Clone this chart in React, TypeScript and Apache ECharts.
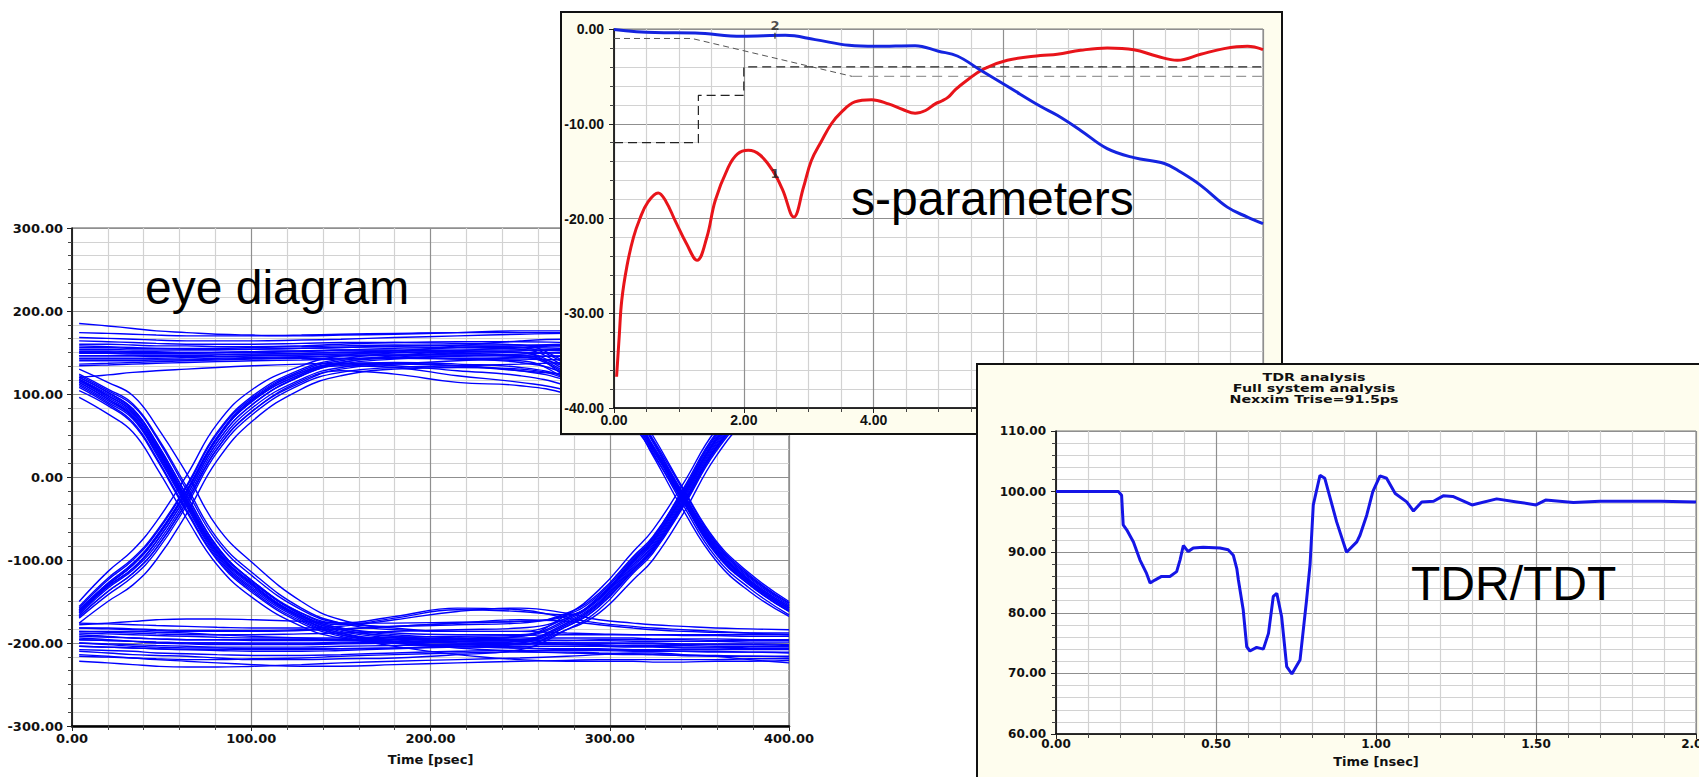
import React, { useEffect, useRef } from "react";
import * as echarts from "echarts";

// ---------------- Eye diagram data ----------------
const eyeTimes = [4, 20, 34, 47, 64, 81, 101, 128, 150, 180, 215, 250, 276, 294, 313, 324, 341, 359, 378, 400];
const eyeTraces: number[][] = [
  [185, 182, 179, 176, 174, 172, 171, 170, 171, 172, 174, 176, 176, 175, 175, 174, 174, 173, 172, 172],
  [174, 173, 172, 171, 170, 170, 170, 171, 172, 173, 174, 174, 174, 174, 173, 173, 172, 172, 171, 171],
  [168, 167, 166, 165, 164, 164, 164, 165, 166, 168, 170, 172, 173, 173, 172, 172, 171, 170, 170, 169],
  [160, 160, 159, 158, 158, 157, 157, 158, 160, 162, 163, 163, 162, 161, 160, 160, 159, 158, 158, 157],
  [156, 156, 155, 155, 154, 154, 154, 155, 156, 158, 159, 159, 158, 157, 156, 156, 155, 155, 154, 154],
  [152, 152, 151, 151, 150, 150, 150, 151, 153, 155, 156, 156, 155, 154, 153, 152, 152, 151, 150, 150],
  [149, 149, 148, 148, 148, 148, 148, 149, 150, 152, 153, 153, 152, 151, 150, 150, 149, 149, 148, 148],
  [146, 146, 146, 145, 145, 145, 146, 147, 148, 150, 151, 150, 149, 148, 147, 147, 146, 146, 145, 145],
  [140, 140, 140, 141, 141, 142, 143, 144, 146, 147, 147, 146, 145, 144, 143, 142, 141, 140, 139, 139],
  [134, 135, 136, 137, 138, 139, 140, 141, 142, 143, 143, 142, 141, 140, 139, 138, 137, 136, 135, 134],
  [120, 123, 126, 128, 130, 132, 134, 136, 137, 137, 134, 128, 124, 121, 119, 117, 115, 114, 113, 112],
  [158, 157, 156, 155, 155, 155, 156, 157, 158, 159, 158, 156, 136, 108, 80, 44, -20, -80, -120, -152],
  [154, 154, 153, 153, 153, 153, 154, 155, 156, 157, 156, 154, 132, 104, 78, 42, -22, -84, -124, -156],
  [150, 150, 149, 149, 149, 150, 151, 152, 153, 153, 152, 150, 128, 100, 74, 38, -26, -86, -126, -158],
  [146, 146, 146, 146, 146, 147, 148, 149, 150, 150, 149, 147, 126, 98, 72, 36, -28, -90, -128, -160],
  [143, 143, 143, 143, 144, 145, 146, 147, 148, 148, 147, 145, 124, 96, 70, 34, -30, -92, -130, -162],
  [164, 163, 162, 161, 160, 160, 160, 161, 162, 162, 161, 159, 138, 112, 86, 50, -14, -76, -116, -150],
  [136, 137, 138, 139, 140, 141, 142, 143, 143, 143, 142, 140, 118, 92, 66, 30, -34, -96, -134, -166],
  [151, 151, 150, 150, 150, 150, 151, 152, 152, 152, 151, 150, 120, 92, 64, 26, -40, -100, -138, -168],
  [142, 142, 142, 142, 142, 143, 144, 145, 146, 146, 145, 144, 132, 106, 80, 46, -16, -78, -118, -152],
  [120, 102, 82, 42, -22, -84, -126, -166, -182, -190, -194, -196, -197, -197, -198, -198, -198, -198, -199, -199],
  [116, 98, 78, 36, -28, -90, -130, -168, -184, -192, -196, -198, -200, -200, -201, -201, -202, -202, -202, -203],
  [114, 94, 72, 30, -34, -94, -134, -170, -186, -194, -198, -200, -202, -203, -204, -204, -205, -205, -206, -206],
  [124, 106, 88, 50, -12, -74, -116, -158, -176, -184, -186, -186, -188, -189, -190, -190, -191, -191, -192, -192],
  [110, 90, 70, 28, -36, -96, -136, -172, -190, -200, -206, -210, -212, -213, -214, -214, -215, -215, -216, -216],
  [108, 88, 66, 24, -40, -98, -138, -174, -190, -198, -204, -206, -208, -208, -209, -209, -210, -210, -211, -211],
  [96, 76, 54, 12, -50, -106, -146, -180, -194, -200, -204, -206, -207, -207, -208, -208, -208, -208, -208, -208],
  [118, 100, 80, 40, -26, -88, -128, -164, -176, -168, -158, -160, -170, -176, -180, -182, -184, -186, -188, -190],
  [104, 86, 64, 22, -42, -100, -140, -176, -192, -204, -214, -220, -222, -222, -222, -223, -223, -222, -222, -221],
  [120, 102, 82, 42, -22, -84, -126, -166, -182, -188, -190, -190, -172, -148, -104, -80, -24, 42, 86, 118],
  [116, 96, 76, 36, -30, -90, -130, -168, -184, -192, -196, -196, -176, -152, -110, -86, -30, 36, 80, 112],
  [114, 94, 74, 34, -30, -90, -130, -170, -188, -196, -200, -198, -178, -154, -112, -88, -32, 34, 80, 112],
  [122, 104, 86, 48, -16, -78, -120, -160, -176, -180, -178, -176, -164, -140, -96, -72, -16, 50, 92, 122],
  [112, 92, 72, 32, -32, -92, -132, -170, -188, -198, -202, -202, -180, -156, -114, -90, -34, 32, 78, 110],
  [118, 98, 78, 38, -26, -86, -126, -164, -178, -170, -160, -162, -166, -144, -100, -76, -20, 46, 90, 120],
  [130, 114, 98, 62, 4, -60, -104, -150, -172, -182, -186, -186, -170, -146, -100, -74, -14, 52, 94, 124],
  [-164, -132, -110, -78, -22, 42, 88, 122, 136, 142, 146, 148, 150, 150, 150, 150, 150, 150, 150, 150],
  [-162, -130, -106, -74, -18, 46, 92, 124, 138, 144, 150, 152, 154, 154, 154, 154, 154, 154, 154, 154],
  [-160, -128, -104, -72, -16, 48, 94, 126, 138, 146, 152, 156, 158, 158, 158, 158, 158, 158, 158, 158],
  [-168, -138, -116, -86, -30, 34, 80, 116, 130, 136, 140, 144, 146, 146, 146, 146, 146, 146, 146, 146],
  [-156, -122, -98, -66, -10, 54, 98, 130, 142, 150, 158, 164, 166, 166, 166, 166, 166, 166, 166, 166],
  [-170, -142, -120, -90, -34, 30, 76, 112, 126, 132, 134, 136, 138, 140, 140, 140, 140, 140, 140, 140],
  [-150, -114, -88, -54, 2, 64, 106, 134, 146, 152, 156, 158, 160, 160, 160, 160, 160, 160, 160, 160],
  [-164, -132, -110, -78, -22, 42, 88, 122, 134, 132, 122, 114, 104, 86, 64, 32, -26, -86, -126, -158],
  [-162, -130, -106, -74, -18, 46, 92, 124, 136, 138, 136, 132, 120, 98, 72, 36, -22, -82, -122, -154],
  [-160, -128, -104, -72, -16, 48, 94, 126, 136, 134, 128, 122, 110, 92, 68, 34, -24, -84, -124, -156],
  [-168, -138, -116, -86, -30, 34, 80, 114, 128, 124, 114, 110, 100, 82, 60, 28, -30, -90, -130, -162],
  [-158, -124, -100, -68, -12, 52, 96, 128, 140, 144, 142, 138, 124, 100, 74, 38, -20, -80, -120, -152],
  [-166, -134, -112, -82, -26, 38, 84, 118, 132, 136, 134, 128, 116, 96, 70, 36, -28, -88, -128, -160],
  [-176, -150, -130, -100, -44, 20, 68, 106, 122, 130, 132, 130, 118, 96, 70, 36, -26, -86, -126, -158],
  [-190, -192, -194, -195, -196, -196, -196, -196, -196, -195, -194, -192, -174, -150, -106, -82, -26, 40, 84, 116],
  [-194, -196, -198, -200, -201, -202, -202, -202, -201, -200, -198, -196, -176, -152, -108, -84, -28, 38, 82, 114],
  [-200, -202, -204, -205, -206, -206, -207, -207, -207, -206, -204, -200, -180, -156, -112, -88, -32, 34, 78, 110],
  [-186, -187, -188, -189, -190, -190, -190, -189, -188, -186, -184, -182, -170, -146, -102, -78, -22, 44, 88, 118],
  [-182, -182, -183, -184, -185, -185, -185, -184, -183, -180, -176, -174, -166, -142, -98, -74, -18, 48, 90, 120],
  [-210, -212, -214, -215, -216, -218, -220, -220, -219, -218, -214, -208, -184, -160, -116, -92, -36, 30, 76, 108],
  [-178, -176, -174, -172, -171, -171, -172, -174, -176, -176, -175, -174, -168, -146, -102, -78, -22, 44, 88, 118],
  [-196, -197, -198, -199, -200, -200, -200, -200, -199, -198, -196, -192, -166, -136, -90, -64, -8, 56, 96, 124],
  [-204, -205, -206, -207, -208, -208, -208, -208, -207, -206, -204, -202, -184, -164, -124, -100, -44, 24, 72, 104],
  [-188, -189, -190, -191, -192, -193, -194, -194, -194, -193, -192, -191, -190, -190, -190, -190, -190, -190, -190, -190],
  [-192, -193, -194, -195, -196, -196, -197, -197, -197, -196, -195, -194, -194, -194, -194, -195, -195, -195, -196, -196],
  [-196, -197, -198, -199, -200, -200, -201, -201, -200, -199, -198, -197, -197, -196, -196, -196, -196, -197, -197, -197],
  [-200, -201, -202, -203, -204, -205, -205, -205, -204, -203, -202, -201, -200, -200, -200, -200, -201, -201, -201, -202],
  [-204, -205, -206, -207, -208, -209, -210, -210, -209, -207, -205, -204, -204, -204, -205, -205, -206, -206, -207, -207],
  [-208, -209, -210, -212, -213, -214, -215, -215, -214, -212, -210, -209, -209, -209, -210, -210, -210, -211, -211, -212],
  [-214, -216, -218, -220, -222, -224, -226, -228, -228, -226, -224, -222, -221, -220, -220, -220, -220, -220, -219, -219],
  [-216, -217, -218, -219, -220, -220, -219, -218, -216, -214, -212, -211, -211, -212, -213, -214, -215, -216, -216, -217],
  [-176, -177, -178, -179, -180, -181, -182, -182, -180, -172, -162, -158, -164, -172, -176, -178, -180, -182, -183, -184],
  [-182, -183, -184, -185, -186, -186, -186, -185, -183, -180, -176, -172, -174, -178, -182, -184, -186, -187, -188, -188],
  [-222, -224, -226, -228, -229, -229, -228, -226, -224, -222, -220, -218, -216, -214, -212, -212, -214, -216, -220, -224],
  [-186, -186, -186, -187, -188, -190, -192, -194, -196, -198, -200, -201, -202, -202, -203, -203, -203, -204, -204, -204],
];

// ---------------- S-parameter data ----------------
const sReturnLoss: [number, number][] = [
  [0.04, -36.7], [0.08, -32.5], [0.12, -28.6], [0.2, -25], [0.3, -22], [0.4, -20], [0.52, -18.3], [0.68, -17.3],
  [0.8, -18.2], [0.94, -20.2], [1.12, -22.7], [1.28, -24.4], [1.43, -22.0], [1.56, -18.1], [1.76, -14.6],
  [1.9, -13.2], [2.07, -12.8], [2.25, -13.3], [2.45, -15.0], [2.6, -17.0], [2.77, -19.85], [2.92, -16.7],
  [3.04, -13.9], [3.2, -11.8], [3.35, -10.0], [3.5, -8.8], [3.71, -7.7], [3.97, -7.46], [4.23, -7.9],
  [4.45, -8.5], [4.64, -8.9], [4.8, -8.6], [4.95, -7.9], [5.05, -7.6], [5.15, -7.2], [5.26, -6.4],
  [5.44, -5.4], [5.7, -4.2], [6.06, -3.3], [6.57, -2.8], [6.83, -2.67], [7.19, -2.25], [7.6, -2.0],
  [8.01, -2.18], [8.37, -2.88], [8.68, -3.3], [9.04, -2.67], [9.4, -2.07], [9.76, -1.83], [10, -2.18],
];
const sInsertionLoss: [number, number][] = [
  [0, -0.05], [0.63, -0.38], [1.25, -0.42], [1.97, -0.77], [2.64, -0.67], [3.1, -1.12], [3.62, -1.72],
  [4.03, -1.83], [4.64, -1.76], [5.0, -2.35], [5.29, -2.85], [5.65, -4.36], [6.06, -6.05], [6.57, -8.16],
  [6.83, -9.11], [7.19, -10.7], [7.6, -12.63], [8.01, -13.58], [8.48, -14.2], [8.73, -15.1], [9.04, -16.5],
  [9.45, -18.8], [9.76, -19.85], [10, -20.55],
];
const sMaskReturn: [number, number][] = [[0, -12], [1.3, -12], [1.3, -7], [2, -7], [2, -4], [10, -4]];
const sMaskInsertA: [number, number][] = [[0, -1], [1.2, -1], [3.67, -5]];
const sMaskInsertB: [number, number][] = [[3.67, -5], [10, -5]];
const sMarkerLabels = ["1", "2"];
const sMarkerPoints: [number, number][] = [[2.48, -15.3], [2.48, -0.7]];

// ---------------- TDR data ----------------
const tdrImpedance: [number, number][] = [
  [0, 100], [0.195, 100], [0.205, 99.4], [0.21, 94.5], [0.221, 93.7], [0.242, 91.7], [0.2625, 88.7],
  [0.283, 86.5], [0.294, 84.9], [0.309, 85.4], [0.33, 86.0], [0.356, 86.0], [0.377, 86.8], [0.3875, 88.7],
  [0.398, 91.1], [0.413, 90.1], [0.429, 90.7], [0.46, 90.8], [0.5125, 90.7], [0.538, 90.4], [0.554, 89.5],
  [0.565, 87.3], [0.57, 85.4], [0.585, 80.5], [0.596, 74.4], [0.606, 73.7], [0.627, 74.3], [0.648, 74.0],
  [0.664, 76.6], [0.679, 82.7], [0.69, 83.2], [0.705, 79.4], [0.721, 71.1], [0.737, 69.9], [0.7625, 72.2],
  [0.783, 82.1], [0.794, 88.0], [0.804, 97.8], [0.825, 102.7], [0.84, 102.2], [0.877, 95.0], [0.908, 90.0],
  [0.94, 91.7], [0.95, 92.8], [0.971, 96.1], [0.99, 100], [1.0125, 102.6], [1.033, 102.2], [1.06, 99.7],
  [1.096, 98.3], [1.117, 96.8], [1.143, 98.3], [1.18, 98.4], [1.21, 99.3], [1.24, 99.2], [1.3, 97.8],
  [1.377, 98.8], [1.44, 98.3], [1.5, 97.8], [1.53, 98.6], [1.617, 98.2], [1.7, 98.4], [1.89, 98.4], [2.0, 98.3],
];
const tdrTitleLines = ["TDR analysis", "Full system analysis", "Nexxim Trise=91.5ps"];

const fmt2 = (v: number) => v.toFixed(2);
const CREAM = "#FEFDEE";

function axis(o: any) {
  return {
    type: "value",
    min: o.min,
    max: o.max,
    interval: o.interval,
    axisLine: { show: true, onZero: false, lineStyle: { color: "#000", width: o.lineWidth ?? 1.5 } },
    axisTick: { show: true, length: 5, lineStyle: { color: "#222" } },
    minorTick: { show: true, splitNumber: o.minor, length: 4, lineStyle: { color: "#444" } },
    splitLine: { show: true, lineStyle: { color: o.major ?? "#8f8f8f", width: 1.2 } },
    minorSplitLine: { show: true, lineStyle: { color: o.minorColor ?? "#d2d2d2", width: 1.2 } },
    axisLabel: {
      formatter: fmt2,
      fontFamily: o.font,
      fontWeight: "bold",
      fontSize: o.fontSize,
      color: "#111",
      margin: o.margin,
    },
    name: o.name,
    nameLocation: "middle",
    nameGap: o.nameGap,
    nameTextStyle: { fontFamily: o.font, fontWeight: "bold", fontSize: o.nameSize ?? o.fontSize, color: "#111" },
  };
}

const gridBase = { show: true, backgroundColor: "#fff", borderColor: "#666", borderWidth: 1, containLabel: false, outerBoundsMode: "none" };

const eyeOption = {
  animation: false,
  backgroundColor: "#ffffff",
  grid: { ...gridBase, left: 72, top: 228, width: 717, height: 498, borderColor: "#555" },
  xAxis: axis({ min: 0, max: 400, interval: 100, minor: 5, font: "DejaVu Sans", fontSize: 13, margin: 6, name: "Time [psec]", nameGap: 27, lineWidth: 2.5 }),
  yAxis: axis({ min: -300, max: 300, interval: 100, minor: 6, font: "DejaVu Sans", fontSize: 13, margin: 9 }),
  graphic: [
    { type: "text", x: 145, y: 287, z: 100, style: { text: "eye diagram", font: '48px "Liberation Sans", Arial, sans-serif', fill: "#000", verticalAlign: "middle" } },
  ],
  series: eyeTraces.map((tr, i) => ({
    type: "line",
    name: "trace" + i,
    data: tr.map((v, k) => [eyeTimes[k], v]),
    showSymbol: false,
    symbol: "none",
    smooth: 0.45,
    silent: true,
    lineStyle: { color: "#0000FF", width: 1.4 },
  })),
};

const sOption = {
  animation: false,
  backgroundColor: CREAM,
  grid: { ...gridBase, left: 54, top: 18, width: 649, height: 379, borderColor: "#777" },
  xAxis: axis({ min: 0, max: 10, interval: 2, minor: 4, font: "Liberation Sans", fontSize: 14, margin: 5, name: "F [GHz]", nameGap: 23 }),
  yAxis: axis({ min: -40, max: 0, interval: 10, minor: 5, font: "Liberation Sans", fontSize: 14, margin: 10 }),
  graphic: [
    { type: "rect", z: 100, shape: { x: 1, y: 1, width: 721, height: 422 }, style: { fill: "none", stroke: "#111", lineWidth: 2 } },
    { type: "text", x: 291, y: 187, z: 100, style: { text: "s-parameters", font: '48px "Liberation Sans", Arial, sans-serif', fill: "#000", verticalAlign: "middle" } },
  ],
  series: [
    { type: "line", name: "mask1", data: sMaskReturn, showSymbol: false, symbol: "none", lineStyle: { color: "#222", width: 1.2, type: [9, 5] } },
    { type: "line", name: "mask2a", data: sMaskInsertA, showSymbol: false, symbol: "none", lineStyle: { color: "#555", width: 1, type: [6, 4] } },
    { type: "line", name: "mask2b", data: sMaskInsertB, showSymbol: false, symbol: "none", lineStyle: { color: "#999", width: 1.2, type: [10, 6] } },
    { type: "line", name: "S11", data: sReturnLoss, showSymbol: false, symbol: "none", smooth: 0.4, lineStyle: { color: "#E8141A", width: 3 } },
    { type: "line", name: "S21", data: sInsertionLoss, showSymbol: false, symbol: "none", smooth: 0.4, lineStyle: { color: "#1424E0", width: 3 } },
    {
      type: "scatter",
      name: "markers",
      symbol: "rect",
      symbolSize: [1.5, 6],
      itemStyle: { color: "#333" },
      z: 10,
      data: sMarkerPoints.map((p, i) => ({
        value: p,
        label: {
          show: true,
          formatter: sMarkerLabels[i],
          position: i === 0 ? "inside" : "top",
          distance: 1,
          fontFamily: "DejaVu Sans",
          fontWeight: "bold",
          fontSize: 13,
          color: "#222",
        },
      })),
    },
  ],
};

const tdrOption = {
  animation: false,
  backgroundColor: CREAM,
  grid: { ...gridBase, left: 80, top: 68, width: 640, height: 303, borderColor: "#777" },
  xAxis: axis({ min: 0, max: 2, interval: 0.5, minor: 5, font: "DejaVu Sans", fontSize: 12, margin: 4, name: "Time [nsec]", nameGap: 17, nameSize: 13 }),
  yAxis: axis({ min: 60, max: 110, interval: 10, minor: 5, font: "DejaVu Sans", fontSize: 12, margin: 10 }),
  graphic: [
    { type: "rect", z: 100, shape: { x: 1, y: 1, width: 800, height: 500 }, style: { fill: "none", stroke: "#111", lineWidth: 2 } },
    ...tdrTitleLines.map((t, i) => ({
      type: "text",
      x: 338,
      y: 15 + i * 10.7,
      scaleX: 1.43,
      z: 100,
      style: { text: t, font: 'bold 10px "DejaVu Sans", sans-serif', fill: "#111", align: "center", verticalAlign: "middle" },
    })),
    { type: "text", x: 435, y: 220, z: 100, style: { text: "TDR/TDT", font: '48px "Liberation Sans", Arial, sans-serif', fill: "#000", verticalAlign: "middle" } },
  ],
  series: [
    { type: "line", name: "TDR", data: tdrImpedance, showSymbol: false, symbol: "none", lineStyle: { color: "#1515E6", width: 3 } },
  ],
};

function Chart({ option, style }: { option: any; style: React.CSSProperties }) {
  const ref = useRef<HTMLDivElement>(null);
  useEffect(() => {
    if (!ref.current) return;
    const chart = echarts.init(ref.current, null, { renderer: "svg" });
    chart.setOption(option);
    return () => chart.dispose();
  }, [option]);
  return <div ref={ref} style={{ position: "absolute", overflow: "hidden", ...style }} />;
}

export default function App() {
  return (
    <div style={{ position: "absolute", left: 0, top: 0, width: 1699, height: 777, background: "#fff", overflow: "hidden" }}>
      <Chart option={eyeOption} style={{ left: 0, top: 0, width: 840, height: 777, zIndex: 1 }} />
      <Chart option={sOption} style={{ left: 560, top: 11, width: 723, height: 424, zIndex: 2 }} />
      <Chart option={tdrOption} style={{ left: 976, top: 363, width: 723, height: 414, zIndex: 3 }} />
    </div>
  );
}
